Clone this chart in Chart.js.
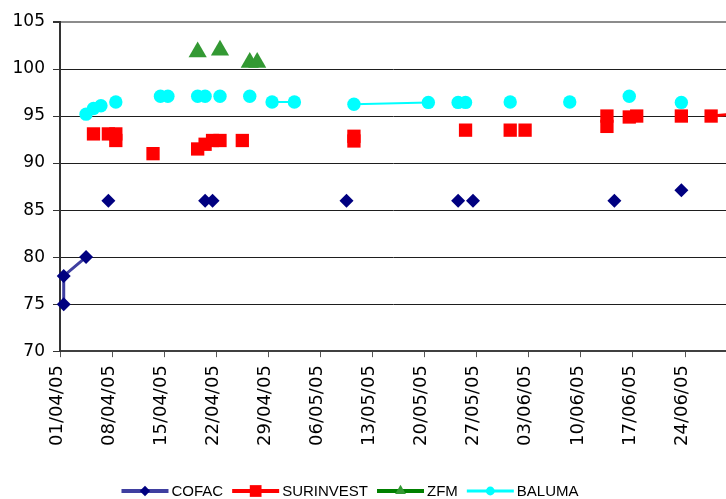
<!DOCTYPE html>
<html>
<head>
<meta charset="utf-8">
<script src="https://cdn.jsdelivr.net/npm/chart.js@4.4.1/dist/chart.umd.min.js"></script>
<style>
  html, body { margin: 0; padding: 0; background: #ffffff; }
  #wrap { width: 726px; height: 499px; }
</style>
</head>
<body>
<div id="wrap"><canvas id="chart" width="726" height="499"></canvas></div>
<script>
// Weekly date ticks on the horizontal axis
const tickDates = ['01/04/05','08/04/05','15/04/05','22/04/05','29/04/05','06/05/05','13/05/05',
                   '20/05/05','27/05/05','03/06/05','10/06/05','17/06/05','24/06/05'];

// Price axis
const priceMin = 70, priceMax = 105, priceStep = 5;

// Trade log, one row per trade, in the order recorded
const tradeDates = ['01/04/05','01/04/05','04/04/05','04/04/05','05/04/05','05/04/05','06/04/05',
  '07/04/05','07/04/05','08/04/05','08/04/05','08/04/05','13/04/05','14/04/05','15/04/05',
  '19/04/05','19/04/05','19/04/05','20/04/05','20/04/05','20/04/05','21/04/05','21/04/05',
  '22/04/05','22/04/05','22/04/05','25/04/05','26/04/05','26/04/05','27/04/05','29/04/05',
  '02/05/05','09/05/05','10/05/05','10/05/05','10/05/05','20/05/05','24/05/05','24/05/05',
  '25/05/05','25/05/05','26/05/05','31/05/05','31/05/05','02/06/05','08/06/05','13/06/05',
  '13/06/05','14/06/05','16/06/05','16/06/05','17/06/05','23/06/05','23/06/05','23/06/05',
  '27/06/05','01/07/05'];
const tradeIssuers = ['COFAC','COFAC','COFAC','BALUMA','BALUMA','SURINVEST','BALUMA',
  'COFAC','SURINVEST','SURINVEST','SURINVEST','BALUMA','SURINVEST','BALUMA','BALUMA',
  'ZFM','BALUMA','SURINVEST','BALUMA','SURINVEST','COFAC','COFAC','SURINVEST',
  'SURINVEST','ZFM','BALUMA','SURINVEST','BALUMA','ZFM','ZFM','BALUMA',
  'BALUMA','COFAC','SURINVEST','SURINVEST','BALUMA','BALUMA','COFAC','BALUMA',
  'BALUMA','SURINVEST','COFAC','SURINVEST','BALUMA','SURINVEST','BALUMA','SURINVEST',
  'SURINVEST','COFAC','SURINVEST','BALUMA','SURINVEST','BALUMA','SURINVEST','COFAC',
  'SURINVEST','SURINVEST'];
const tradePrices = [75, 78, 80, 95.2, 95.8, 93.1, 96.1,
  86, 93.1, 93.1, 92.4, 96.5, 91.0, 97.1, 97.1,
  101.8, 97.1, 91.5, 97.1, 92.0, 86, 86, 92.4,
  92.4, 102.0, 97.1, 92.4, 97.1, 100.7, 100.7, 96.5,
  96.5, 86, 92.85, 92.35, 96.25, 96.45, 86, 96.45,
  96.45, 93.5, 86, 93.5, 96.5, 93.5, 96.5, 95.0,
  93.9, 86, 94.9, 97.1, 95.0, 96.45, 95.0, 87.1,
  95.0, 95.3];

const seriesNames = ['COFAC', 'SURINVEST', 'ZFM', 'BALUMA'];

const seriesStyle = {
  COFAC:     { line: '#3f3fa0', fill: '#000080', shape: 'rectRot',  r: 7,    width: 3, legendR: 5.2 },
  SURINVEST: { line: '#ff0000', fill: '#ff0000', shape: 'rect',     r: 9.4,  width: 3, legendR: 8.3 },
  ZFM:       { line: '#008000', fill: '#339933', shape: 'triangle', r: 10.5, width: 3, legendR: 6.2 },
  BALUMA:    { line: '#00ffff', fill: '#00ffff', shape: 'circle',   r: 6.7,  width: 2, legendR: 4.4 }
};

const ORIGIN = Date.UTC(2005, 3, 1);
function dayOf(s) {
  const [d, m, y] = s.split('/').map(Number);
  return Math.round((Date.UTC(2000 + y, m - 1, d) - ORIGIN) / 86400000);
}

// Each issuer gets every row; rows belonging to other issuers are gaps,
// so only consecutive trades of the same issuer are joined by a line.
const datasets = seriesNames.map(name => {
  const st = seriesStyle[name];
  return {
    label: name,
    data: tradeDates.map((d, i) => ({
      x: dayOf(d) + 0.5,           // plotted at midday of the trade date
      y: tradeIssuers[i] === name ? tradePrices[i] : null
    })),
    borderColor: st.line,
    borderWidth: st.width,
    backgroundColor: st.fill,
    pointStyle: st.shape,
    pointRadius: st.r,
    pointHoverRadius: st.r,
    pointBackgroundColor: st.fill,
    pointBorderColor: st.fill,
    pointBorderWidth: 0,
    spanGaps: false,
    tension: 0,
    clip: false
  };
});

function drawMarker(ctx, shape, x, y, r, color) {
  ctx.beginPath();
  if (shape === 'rectRot') {
    ctx.moveTo(x - r, y); ctx.lineTo(x, y - r); ctx.lineTo(x + r, y); ctx.lineTo(x, y + r);
  } else if (shape === 'rect') {
    const s = r * Math.SQRT1_2;
    ctx.rect(x - s, y - s, 2 * s, 2 * s);
  } else if (shape === 'triangle') {
    ctx.moveTo(x, y - r); ctx.lineTo(x + 0.866 * r, y + 0.5 * r); ctx.lineTo(x - 0.866 * r, y + 0.5 * r);
  } else {
    ctx.arc(x, y, r, 0, Math.PI * 2);
  }
  ctx.closePath();
  ctx.fillStyle = color;
  ctx.fill();
}

// Legend drawn as line-with-marker samples followed by the issuer name
const lineLegend = {
  id: 'lineLegend',
  afterDraw(chart) {
    const ctx = chart.ctx;
    const sampleLen = 47, textGap = 3, itemGap = 9, cy = 491, centerX = 350;
    ctx.save();
    ctx.font = '15px "Liberation Sans", Arial, sans-serif';
    ctx.textBaseline = 'middle';
    ctx.textAlign = 'left';
    const widths = seriesNames.map(n => ctx.measureText(n).width);
    const total = widths.reduce((a, w) => a + sampleLen + textGap + w, 0) + itemGap * (seriesNames.length - 1);
    let x = centerX - total / 2;
    seriesNames.forEach((name, i) => {
      const st = seriesStyle[name];
      ctx.strokeStyle = st.line;
      ctx.lineWidth = st.width + 1;
      ctx.beginPath();
      ctx.moveTo(x, cy); ctx.lineTo(x + sampleLen, cy);
      ctx.stroke();
      drawMarker(ctx, st.shape, x + sampleLen / 2, cy, st.legendR, st.fill);
      ctx.fillStyle = '#000000';
      ctx.fillText(name, x + sampleLen + textGap, cy + 1);
      x += sampleLen + textGap + widths[i] + itemGap;
    });
    ctx.restore();
  }
};

new Chart(document.getElementById('chart'), {
  type: 'line',
  data: { datasets },
  options: {
    responsive: false,
    devicePixelRatio: 1,
    animation: false,
    events: [],
    layout: { autoPadding: false, padding: { top: 22, right: 0, bottom: 45, left: 0 } },
    plugins: {
      legend: { display: false },
      tooltip: { enabled: false }
    },
    scales: {
      x: {
        type: 'linear',
        min: 0,
        max: 89.5,
        afterBuildTicks: scale => { scale.ticks = tickDates.map(d => ({ value: dayOf(d) })); },
        afterFit: scale => { scale.paddingLeft = 0; scale.paddingRight = 0; },
        ticks: {
          autoSkip: false,
          minRotation: 90,
          maxRotation: 90,
          padding: 8,
          labelOffset: -3,
          color: '#000000',
          font: { family: '"DejaVu Sans", sans-serif', size: 18 },
          callback: v => { const t = tickDates.find(d => dayOf(d) === v); return t || ''; }
        },
        grid: { drawOnChartArea: false, drawTicks: true, tickLength: 6, color: '#555555' },
        border: { color: '#404040', width: 2 }
      },
      y: {
        min: priceMin,
        max: priceMax,
        afterFit: scale => { scale.width = 60; },
        ticks: {
          stepSize: priceStep,
          padding: 8,
          color: '#000000',
          font: { family: '"DejaVu Sans", sans-serif', size: 17 }
        },
        grid: {
          color: c => (c.tick && c.tick.value === priceMax) ? '#8c8c8c' : '#1e1e1e',
          lineWidth: c => (c.tick && c.tick.value === priceMax) ? 2 : 1,
          tickColor: '#333333',
          tickLength: 7
        },
        border: { color: '#333333', width: 2 }
      }
    }
  },
  plugins: [lineLegend]
});
</script>
</body>
</html>
